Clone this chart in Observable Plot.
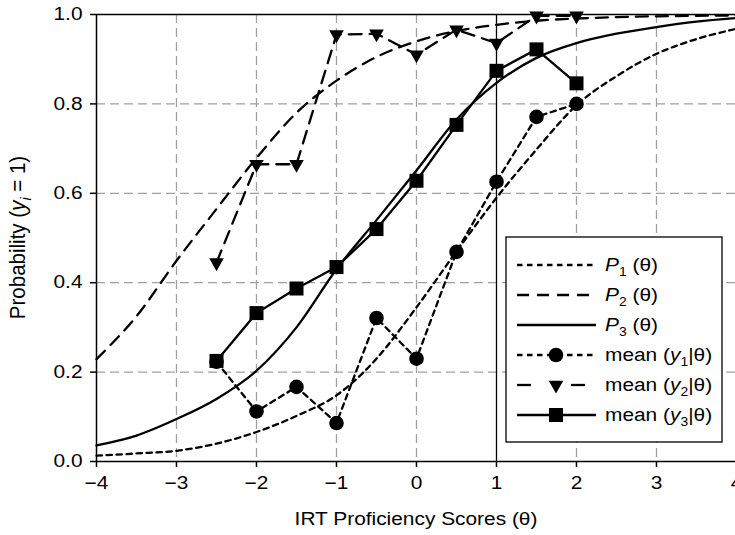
<!DOCTYPE html>
<html><head><meta charset="utf-8">
<script src="https://cdn.jsdelivr.net/npm/d3@7"></script>
<script src="https://cdn.jsdelivr.net/npm/@observablehq/plot@0.6"></script>
<style>
html,body{margin:0;padding:0;background:#fff;overflow:hidden;}
svg{max-width:none !important;}
</style></head><body>
<div id="chart"></div>
<script>
// ---- data ----
const theta = [-4,-3.5,-3,-2.5,-2,-1.5,-1,-0.5,0,0.5,1,1.5,2,2.5,3,3.5,4];
const p1 = [0.013,0.018,0.024,0.040,0.066,0.102,0.148,0.230,0.345,0.470,0.590,0.698,0.797,0.862,0.912,0.945,0.968];
const p2 = [0.229,0.325,0.449,0.565,0.679,0.780,0.852,0.905,0.940,0.963,0.977,0.986,0.991,0.994,0.996,0.997,0.998];
const p3 = [0.036,0.058,0.095,0.140,0.203,0.300,0.430,0.540,0.651,0.765,0.847,0.903,0.936,0.957,0.972,0.984,0.992];
const thetaObs = [-2.5,-2,-1.5,-1,-0.5,0,0.5,1,1.5,2];
const mean1 = [0.223,0.112,0.167,0.086,0.321,0.230,0.469,0.626,0.771,0.800];
const mean2 = [0.445,0.665,0.665,0.955,0.957,0.910,0.966,0.936,0.997,0.997];
const mean3 = [0.225,0.332,0.387,0.435,0.520,0.628,0.753,0.874,0.922,0.846];
const xTicks = [-4,-3,-2,-1,0,1,2,3,4];
const yTicks = [0,0.2,0.4,0.6,0.8,1];
const xGrid = [-3,-2,-1,0,2,3];
const yGrid = [0.2,0.4,0.6,0.8];
const xTitle = "IRT Proficiency Scores (θ)";

// ---- styles ----
const DOT = "5.5,4.5", DASH = "12,8", DASH2 = "13,8";
const SX = 1.16; // horizontal text stretch seen in the reference
const circleSym = {draw(c){ c.moveTo(7.3,0); c.arc(0,0,7.3,0,2*Math.PI); c.closePath(); }};
const squareSym = {draw(c){ c.rect(-7,-7,14,14); }};
const triSym = {draw(c){ c.moveTo(-7.3,-4.3); c.lineTo(7.3,-4.3); c.lineTo(0,8.6); c.closePath(); }};

const lineStyle = {stroke:"black", strokeWidth:2.3, curve:"monotone-x"};
const chart = Plot.plot({
  width: 740, height: 535,
  marginLeft: 96, marginRight: 4, marginTop: 14, marginBottom: 74,
  style: {fontFamily:"'Liberation Sans', Arial, sans-serif", fontSize:"18px", background:"white", color:"black", overflow:"visible", maxWidth:"none"},
  x: {domain:[-4,4], ticks:xTicks, tickSize:6, tickPadding:9, label:null},
  y: {domain:[0,1], ticks:yTicks, tickSize:6, tickPadding:8, tickFormat:d3.format(".1f"), label:null},
  marks: [
    Plot.ruleX(xGrid, {stroke:"#a0a0a0", strokeWidth:1.3, strokeDasharray:"9,5"}),
    Plot.ruleY(yGrid, {stroke:"#a0a0a0", strokeWidth:1.3, strokeDasharray:"9,5"}),
    Plot.ruleX([1], {stroke:"black", strokeWidth:1.3}),
    Plot.line(p1, {x:theta, y:p1, ...lineStyle, strokeDasharray:DOT}),
    Plot.line(p2, {x:theta, y:p2, ...lineStyle, strokeDasharray:DASH}),
    Plot.line(p3, {x:theta, y:p3, ...lineStyle}),
    Plot.line(mean1, {x:thetaObs, y:mean1, stroke:"black", strokeWidth:2.3, strokeDasharray:DOT}),
    Plot.line(mean2, {x:thetaObs, y:mean2, stroke:"black", strokeWidth:2.3, strokeDasharray:DASH2}),
    Plot.line(mean3, {x:thetaObs, y:mean3, stroke:"black", strokeWidth:2.3}),
    Plot.dot(mean1, {x:thetaObs, y:mean1, symbol:circleSym, r:7, fill:"black", stroke:"none"}),
    Plot.dot(mean2, {x:thetaObs, y:mean2, symbol:triSym, r:7, fill:"black", stroke:"none"}),
    Plot.dot(mean3, {x:thetaObs, y:mean3, symbol:squareSym, r:7, fill:"black", stroke:"none"}),
    Plot.ruleY([0], {stroke:"black", strokeWidth:1.5}),
    Plot.ruleY([1], {stroke:"black", strokeWidth:1.5}),
    Plot.ruleX([-4], {stroke:"black", strokeWidth:1.5})
  ]
});
document.getElementById("chart").append(chart);

const svgEl = chart.tagName.toLowerCase() === "svg" ? chart : chart.querySelector("svg");
svgEl.style.maxWidth = "none";
// stretch tick labels horizontally about their own anchor, using their rendered box
svgEl.querySelectorAll("text").forEach(t => {
  const tr = t.getAttribute("transform") || "";
  const anchor = getComputedStyle(t).textAnchor;
  const b = t.getBBox();
  const ax = anchor === "end" ? b.x + b.width : anchor === "start" ? b.x : b.x + b.width / 2;
  t.setAttribute("transform", `${tr} translate(${ax},0) scale(${SX},1) translate(${-ax},0)`);
});
svgEl.querySelectorAll("g[aria-label*='axis'] line, g[aria-label*='tick'] path").forEach(l => l.setAttribute("stroke-width", 1.5));

const svg = d3.select(svgEl);
const ff = "'Liberation Sans', Arial, sans-serif";

// x-axis title
svg.append("g").attr("transform", `translate(416,525) scale(${SX},1)`)
  .append("text").attr("text-anchor","middle").attr("font-family",ff).attr("font-size",18).attr("fill","black").text(xTitle);

// y-axis title with italic y and subscript i
const yt = svg.append("g").attr("transform","translate(25,237.5) rotate(-90) scale(1.08,1.12)")
  .append("text").attr("text-anchor","middle").attr("font-family",ff).attr("font-size",19).attr("fill","black");
yt.append("tspan").text("Probability (");
yt.append("tspan").attr("font-style","italic").text("y");
yt.append("tspan").attr("font-style","italic").attr("font-size",13).attr("dy",5).text("i");
yt.append("tspan").attr("dy",-5).text(" = 1)");

// legend
const lg = svg.append("g");
lg.append("rect").attr("x",506).attr("y",237).attr("width",216).attr("height",205)
  .attr("fill","white").attr("stroke","black").attr("stroke-width",1.3);
const rows = [
  {kind:"P", sub:"1", dash:DOT},
  {kind:"P", sub:"2", dash:DASH},
  {kind:"P", sub:"3", dash:null},
  {kind:"m", sub:"1", dash:DOT, sym:circleSym},
  {kind:"m", sub:"2", dash:null, sym:triSym, split:true},
  {kind:"m", sub:"3", dash:null, sym:squareSym}
];
rows.forEach((r, i) => {
  const cy = 265 + 30*i;
  if (r.split) {
    [[517,531],[571,585]].forEach(([a,b]) => lg.append("line").attr("x1",a).attr("x2",b).attr("y1",cy).attr("y2",cy).attr("stroke","black").attr("stroke-width",2.3));
  } else {
    const ln = lg.append("line").attr("x1",517).attr("x2",596).attr("y1",cy).attr("y2",cy).attr("stroke","black").attr("stroke-width",2.3);
    if (r.dash) ln.attr("stroke-dasharray", r.dash);
  }
  if (r.sym) {
    const p = d3.path(); r.sym.draw(p);
    lg.append("path").attr("d", p.toString()).attr("transform",`translate(556,${cy})`).attr("fill","black");
  }
  const t = lg.append("g").attr("transform",`translate(605,${cy+6}) scale(${SX},1)`)
    .append("text").attr("text-anchor","start").attr("font-family",ff).attr("font-size",18).attr("fill","black");
  if (r.kind === "P") {
    t.append("tspan").attr("font-style","italic").text("P");
    t.append("tspan").attr("font-size",12).attr("dy",5).text(r.sub);
    t.append("tspan").attr("dy",-5).text(" (θ)");
  } else {
    t.append("tspan").text("mean (");
    t.append("tspan").attr("font-style","italic").text("y");
    t.append("tspan").attr("font-size",12).attr("dy",5).text(r.sub);
    t.append("tspan").attr("dy",-5).text("|θ)");
  }
});
</script>
</body></html>
